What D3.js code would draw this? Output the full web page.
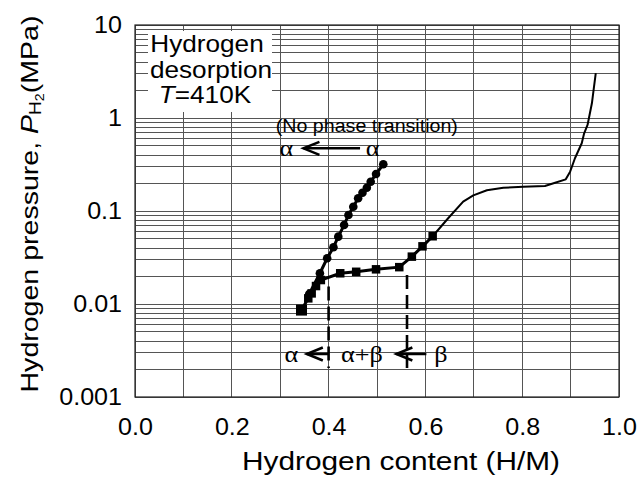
<!DOCTYPE html>
<html>
<head>
<meta charset="utf-8">
<script src="https://d3js.org/d3.v7.min.js"></script>
<style>
  body { margin: 0; background: #fff; }
  svg text { font-family: "Liberation Sans", Arial, Helvetica, sans-serif; fill: #000; }
  svg text.greek { font-family: "Liberation Serif", "Times New Roman", serif; }
</style>
</head>
<body>
<div id="chart"></div>
<script>
// ---- values ----
var xTicks = [0, 0.2, 0.4, 0.6, 0.8, 1.0];
var yTicks = [0.001, 0.01, 0.1, 1, 10];
var yTickLabels = ["0.001", "0.01", "0.1", "1", "10"];

// alpha branch, no phase transition (circles)
var circleX = [0.360, 0.382, 0.397, 0.410, 0.420, 0.432, 0.441, 0.451, 0.461, 0.470, 0.479, 0.487, 0.498, 0.513];
var circleP = [0.0128, 0.0214, 0.0310, 0.0408, 0.0530, 0.0706, 0.0906, 0.111, 0.137, 0.157, 0.178, 0.206, 0.250, 0.318];

// alpha -> alpha+beta -> beta branch (squares)
var squareX = [0.344, 0.358, 0.365, 0.374, 0.384, 0.424, 0.457, 0.498, 0.546, 0.572, 0.594, 0.615];
var squareP = [0.0086, 0.0115, 0.0130, 0.0156, 0.0181, 0.0214, 0.0222, 0.0236, 0.0249, 0.0323, 0.0417, 0.0535];

// continuous curve after the last square
var curveX = [0.615, 0.647, 0.678, 0.699, 0.727, 0.761, 0.802, 0.847, 0.868, 0.890, 0.899, 0.909, 0.923, 0.928, 0.935, 0.944, 0.948, 0.952];
var curveP = [0.0535, 0.0836, 0.126, 0.147, 0.167, 0.178, 0.182, 0.186, 0.201, 0.219, 0.265, 0.369, 0.535, 0.684, 0.842, 1.44, 2.09, 3.03];

// phase boundaries (dashed)
var boundaryX = [0.40, 0.562];
var boundaryTopP = [0.0154, 0.0205];
var boundaryBottomP = 0.00205;

// ---- chart ----
var W = 639, H = 483;
var margin = {top: 25, right: 20, bottom: 86, left: 135};

var svg = d3.select("#chart").append("svg").attr("width", W).attr("height", H);

var x = d3.scaleLinear().domain([0, 1]).range([margin.left, W - margin.right]);
var y = d3.scaleLog().domain([0.001, 10]).range([H - margin.bottom, margin.top]);

// the scanned figure has slightly wide lettering
function stretch(sel, f) {
  sel.each(function() {
    var l = this.getComputedTextLength();
    d3.select(this).attr("textLength", l * f).attr("lengthAdjust", "spacingAndGlyphs");
  });
}

// log graph paper grid
var gridY = [];
yTicks.slice(0, 4).forEach(function(d) {
  for (var k = 1; k < 10; k++) gridY.push(d * k);
});
gridY.push(10);
var gridX = d3.range(0, 11).map(function(i) { return i / 10; });

var grid = svg.append("g").attr("stroke", "#555").attr("stroke-width", 1).attr("shape-rendering", "crispEdges");
grid.selectAll("line.h").data(gridY).join("line").attr("class", "h")
  .attr("x1", x(0)).attr("x2", x(1))
  .attr("y1", function(d) { return y(d); }).attr("y2", function(d) { return y(d); });
grid.selectAll("line.v").data(gridX).join("line").attr("class", "v")
  .attr("x1", function(d) { return x(d); }).attr("x2", function(d) { return x(d); })
  .attr("y1", y(10)).attr("y2", y(0.001));

svg.append("rect")
  .attr("x", x(0)).attr("y", y(10)).attr("width", x(1) - x(0)).attr("height", y(0.001) - y(10))
  .attr("fill", "none").attr("stroke", "#222").attr("stroke-width", 1.2);

// white label box in the upper left
svg.append("rect").attr("x", 148).attr("y", 31).attr("width", 124).attr("height", 81).attr("fill", "#fff");
var box = svg.append("g").attr("font-size", 24).attr("text-anchor", "middle");
box.append("text").attr("x", 207).attr("y", 52).text("Hydrogen");
box.append("text").attr("x", 211).attr("y", 77.5).text("desorption");
var tl = box.append("text").attr("x", 205).attr("y", 103);
tl.append("tspan").attr("font-style", "italic").text("T");
tl.append("tspan").text("=410K");
stretch(box.selectAll("text"), 1.09);

// axes
var xAxis = d3.axisBottom(x).tickValues(xTicks).tickSize(0).tickPadding(22).tickFormat(d3.format(".1f"));
var gx = svg.append("g").attr("transform", "translate(0," + y(0.001) + ")").call(xAxis);
gx.select(".domain").remove();
gx.attr("font-size", 23).attr("font-family", null);
stretch(gx.selectAll("text"), 1.09);

var yAxis = d3.axisLeft(y).tickValues(yTicks).tickSize(0).tickPadding(13)
  .tickFormat(function(d, i) { return yTickLabels[i]; });
var gy = svg.append("g").attr("transform", "translate(" + x(0) + ",0)").call(yAxis);
gy.select(".domain").remove();
gy.attr("font-size", 23).attr("font-family", null);
stretch(gy.selectAll("text"), 1.09);

// axis titles
svg.append("text").attr("x", 401).attr("y", 470).attr("text-anchor", "middle")
  .attr("font-size", 25).attr("textLength", 318).attr("lengthAdjust", "spacingAndGlyphs")
  .text("Hydrogen content (H/M)");

var yt = svg.append("text").attr("text-anchor", "middle").attr("font-size", 24)
  .attr("textLength", 377).attr("lengthAdjust", "spacingAndGlyphs")
  .attr("transform", "translate(38,204) rotate(-90)");
yt.append("tspan").text("Hydrogen pressure, ");
yt.append("tspan").attr("font-style", "italic").text("P");
yt.append("tspan").attr("font-size", 16).attr("dy", 3).text("H");
yt.append("tspan").attr("font-size", 12).attr("dy", 3).text("2");
yt.append("tspan").attr("dy", -6).text("(MPa)");

// data
var line = d3.line().x(function(d) { return x(d[0]); }).y(function(d) { return y(d[1]); });
var circles = d3.zip(circleX, circleP);
var squares = d3.zip(squareX, squareP);
var curve = d3.zip(curveX, curveP);

svg.append("path").datum(curve).attr("d", line)
  .attr("fill", "none").attr("stroke", "#000").attr("stroke-width", 2).attr("stroke-linejoin", "round");
svg.append("path").datum(squares).attr("d", line)
  .attr("fill", "none").attr("stroke", "#000").attr("stroke-width", 3);
svg.append("path").datum(circles).attr("d", line)
  .attr("fill", "none").attr("stroke", "#000").attr("stroke-width", 3);

svg.append("g").selectAll("rect").data(squares).join("rect")
  .attr("x", function(d, i) { var s = i === 0 ? 11 : 8.5; return x(d[0]) - s / 2; })
  .attr("y", function(d, i) { var s = i === 0 ? 11 : 8.5; return y(d[1]) - s / 2; })
  .attr("width", function(d, i) { return i === 0 ? 11 : 8.5; })
  .attr("height", function(d, i) { return i === 0 ? 11 : 8.5; })
  .attr("fill", "#000");
svg.append("g").selectAll("circle").data(circles).join("circle")
  .attr("cx", function(d) { return x(d[0]); }).attr("cy", function(d) { return y(d[1]); })
  .attr("r", 4.3).attr("fill", "#000");

// phase boundaries
svg.append("g").selectAll("line").data(boundaryX).join("line")
  .attr("x1", function(d) { return x(d); }).attr("x2", function(d) { return x(d); })
  .attr("y1", function(d, i) { return y(boundaryTopP[i]); }).attr("y2", y(boundaryBottomP))
  .attr("stroke", "#000").attr("stroke-width", 2.6).attr("stroke-dasharray", "14,6");

// annotations
function arrow(x1, x2, yv) {
  var ya = y(yv), hx = x(x2);
  svg.append("line").attr("x1", x(x1)).attr("x2", hx).attr("y1", ya).attr("y2", ya)
    .attr("stroke", "#000").attr("stroke-width", 2.5);
  svg.append("path").attr("d", "M" + (hx + 16) + "," + (ya - 6.5) + "L" + hx + "," + ya + "L" + (hx + 16) + "," + (ya + 6.5))
    .attr("fill", "none").attr("stroke", "#000").attr("stroke-width", 2.5);
}
function greek(xv, yv, s) {
  var t = svg.append("text").attr("class", "greek").attr("x", x(xv)).attr("y", y(yv))
    .attr("text-anchor", "middle").attr("font-size", 24).text(s);
  stretch(t, 1.09);
}

var nt = svg.append("text").attr("x", x(0.479)).attr("y", y(0.71)).attr("text-anchor", "middle")
  .attr("font-size", 18).text("(No phase transition)");
stretch(nt, 1.09);
arrow(0.465, 0.348, 0.472);
greek(0.313, 0.39, "α");
greek(0.491, 0.39, "α");

arrow(0.400, 0.355, 0.0029);
arrow(0.602, 0.540, 0.0029);
greek(0.323, 0.0024, "α");
greek(0.469, 0.0024, "α+β");
greek(0.632, 0.0024, "β");
</script>
</body>
</html>
